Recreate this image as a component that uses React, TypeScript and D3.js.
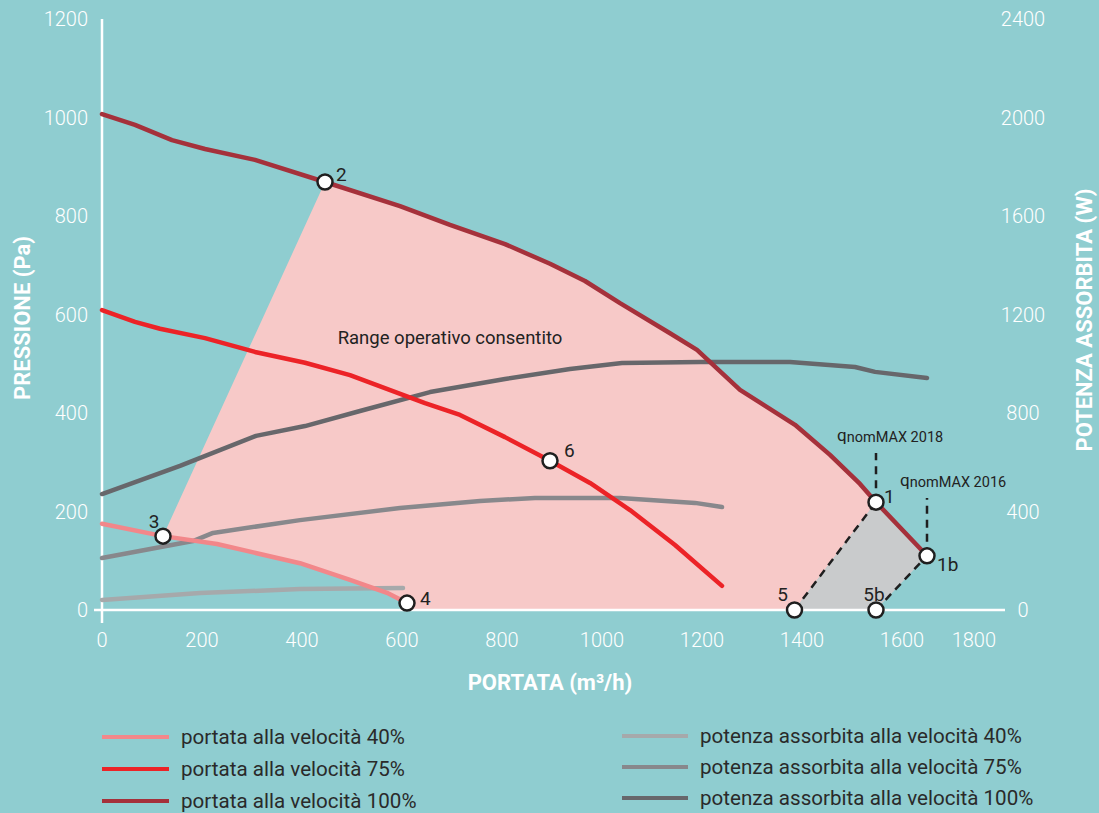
import React from "react";
import * as d3 from "d3";

type Pt = [number, number];

// portata (m3/h) vs pressione (Pa)
const portata40: Pt[] = [
  [0, 175], [122, 150], [230, 134], [396, 95], [496, 61], [570, 35], [610, 14],
];
const portata75: Pt[] = [
  [0, 609], [66, 585], [116, 571], [206, 552], [306, 524], [406, 502], [496, 477],
  [646, 420], [716, 396], [806, 351], [896, 303], [976, 258], [1056, 203],
  [1146, 132], [1240, 49],
];
const portata100: Pt[] = [
  [0, 1007], [66, 985], [140, 954], [206, 936], [306, 914], [446, 869], [596, 820],
  [696, 782], [806, 743], [896, 703], [966, 668], [1036, 623], [1136, 562],
  [1190, 528], [1276, 447], [1386, 376], [1456, 315], [1516, 256], [1548, 219],
  [1650, 110],
];

// portata (m3/h) vs potenza assorbita (W)
const potenza40: Pt[] = [[0, 41], [196, 69], [396, 85], [602, 89]];
const potenza75: Pt[] = [
  [0, 211], [182, 280], [222, 313], [396, 365], [596, 414], [756, 443],
  [866, 455], [1036, 455], [1186, 435], [1240, 418],
];
const potenza100: Pt[] = [
  [0, 471], [156, 585], [308, 707], [406, 747], [516, 808], [656, 885],
  [806, 938], [936, 979], [1040, 1003], [1196, 1007], [1376, 1007],
  [1506, 987], [1546, 967], [1650, 942],
];

// punti di lavoro
const punti = [
  { id: "1", q: 1548, p: 219 },
  { id: "1b", q: 1650, p: 110 },
  { id: "2", q: 446, p: 869 },
  { id: "3", q: 122, p: 150 },
  { id: "4", q: 610, p: 14 },
  { id: "5", q: 1385, p: 0 },
  { id: "5b", q: 1548, p: 0 },
  { id: "6", q: 896, p: 303 },
];

const xTicks = [0, 200, 400, 600, 800, 1000, 1200, 1400, 1600, 1800];
const yTicks = [0, 200, 400, 600, 800, 1000, 1200];
const y2Ticks = [0, 400, 800, 1200, 1600, 2000, 2400];

const legendaPortata = ["portata alla velocità 40%", "portata alla velocità 75%", "portata alla velocità 100%"];
const legendaPotenza = ["potenza assorbita alla velocità 40%", "potenza assorbita alla velocità 75%", "potenza assorbita alla velocità 100%"];

const coloriPortata = ["#f2878a", "#ec2327", "#a5313b"];
const coloriPotenza = ["#a6a9ab", "#88888c", "#67676b"];

const labelOffset: Record<string, [number, number, string]> = {
  "1": [8, -6, "start"],
  "1b": [10, 9, "start"],
  "2": [11, -8, "start"],
  "3": [-9, -15, "middle"],
  "4": [13, -5, "start"],
  "5": [-12, -16, "middle"],
  "5b": [-2, -16, "middle"],
  "6": [14, -10, "start"],
};

export default function App() {
  const x = d3.scaleLinear().domain([0, 1800]).range([102, 1002]);
  const y = d3.scaleLinear().domain([0, 1200]).range([610, 19]);
  const y2 = d3.scaleLinear().domain([0, 2400]).range([610, 19]);

  const lineP = d3.line<Pt>().x((d) => x(d[0])).y((d) => y(d[1]));
  const lineW = d3.line<Pt>().x((d) => x(d[0])).y((d) => y2(d[1]));

  const pt = (id: string) => punti.find((d) => d.id === id)!;
  const p1 = pt("1"), p1b = pt("1b"), p2 = pt("2"), p3 = pt("3"), p4 = pt("4"), p5 = pt("5"), p5b = pt("5b");

  // area operativa consentita (rosa)
  const areaRosa: Pt[] = [
    [p3.q, p3.p],
    [p2.q, p2.p],
    ...portata100.filter((d) => d[0] > p2.q && d[0] < p1.q),
    [p1.q, p1.p],
    [p5.q, p5.p],
    [p4.q, 0],
    [p4.q, p4.p],
    ...portata40.filter((d) => d[0] > p3.q && d[0] < p4.q).reverse(),
  ];
  // area grigia
  const areaGrigia: Pt[] = [
    [p1.q, p1.p],
    ...portata100.filter((d) => d[0] > p1.q && d[0] < p1b.q),
    [p1b.q, p1b.p],
    [p5b.q, p5b.p],
    [p5.q, p5.p],
  ];
  const poly = (pts: Pt[]) => (lineP(pts) || "") + "Z";

  const tickFont = { fontFamily: "Roboto, sans-serif", fontSize: 20, fontWeight: 300, fill: "#ffffff" };
  const dash = { stroke: "#1f1f1f", strokeWidth: 2.5, strokeDasharray: "8 6", fill: "none" };

  return (
    <svg width={1099} height={813} style={{ position: "absolute", left: 0, top: 0 }} fontFamily="Roboto, sans-serif">
      <rect x={0} y={0} width={1099} height={813} fill="#8fcdd0" />

      <path d={poly(areaRosa)} fill="#f7c9c8" />
      <path d={poly(areaGrigia)} fill="#c9cbcc" />

      {/* assi */}
      <line x1={102} x2={102} y1={y(1200)} y2={623} stroke="#fff" strokeWidth={2.5} />
      <line x1={94} x2={1005} y1={y(0)} y2={y(0)} stroke="#fff" strokeWidth={2.5} />

      {yTicks.map((t) => (
        <text key={"y" + t} x={88} y={y(t)} dy="0.36em" textAnchor="end" {...tickFont}>{t}</text>
      ))}
      {y2Ticks.map((t) => (
        <text key={"y2" + t} x={1023} y={y2(t)} dy="0.36em" textAnchor="middle" {...tickFont}>{t}</text>
      ))}
      {xTicks.map((t, i) => (
        <text key={"x" + t} x={i === xTicks.length - 1 ? x(t) - 6 : x(t)} y={647} textAnchor={i === xTicks.length - 1 ? "end" : "middle"} {...tickFont}>{t}</text>
      ))}

      <text x={550} y={690} textAnchor="middle" fill="#fff" fontSize={22} fontWeight={700}>PORTATA (m³/h)</text>
      <text transform="translate(30,318) rotate(-90)" textAnchor="middle" fill="#fff" fontSize={22} fontWeight={700}>PRESSIONE (Pa)</text>
      <text transform="translate(1092,320) rotate(-90)" textAnchor="middle" fill="#fff" fontSize={22} fontWeight={700}>POTENZA ASSORBITA (W)</text>

      {/* curve di potenza */}
      {[potenza40, potenza75, potenza100].map((s, i) => (
        <path key={"w" + i} d={lineW(s) || ""} fill="none" stroke={coloriPotenza[i]} strokeWidth={4.5} strokeLinecap="round" strokeLinejoin="round" />
      ))}
      {/* curve di portata */}
      {[portata40, portata75, portata100].map((s, i) => (
        <path key={"p" + i} d={lineP(s) || ""} fill="none" stroke={coloriPortata[i]} strokeWidth={4.5} strokeLinecap="round" strokeLinejoin="round" />
      ))}

      {/* tratteggi */}
      <line x1={x(p5.q)} y1={y(p5.p)} x2={x(p1.q)} y2={y(p1.p)} {...dash} />
      <line x1={x(p5b.q)} y1={y(p5b.p)} x2={x(p1b.q)} y2={y(p1b.p)} {...dash} />
      <line x1={x(p1.q)} y1={y(p1.p)} x2={x(p1.q)} y2={453} {...dash} />
      <line x1={x(p1b.q)} y1={y(p1b.p)} x2={x(p1b.q)} y2={498} {...dash} />

      <text x={837} y={441} fill="#222" fontSize={17}>
        q<tspan fontSize={14.5} dy={1}>nomMAX 2018</tspan>
      </text>
      <text x={900} y={486} fill="#222" fontSize={17}>
        q<tspan fontSize={14.5} dy={1}>nomMAX 2016</tspan>
      </text>

      <text x={450} y={344} textAnchor="middle" fill="#222" fontSize={18.5}>Range operativo consentito</text>

      {punti.map((d) => {
        const [dx, dy, anchor] = labelOffset[d.id];
        return (
          <g key={"pt" + d.id}>
            <circle cx={x(d.q)} cy={y(d.p)} r={7.5} fill="#fff" stroke="#1f1f1f" strokeWidth={2.5} />
            <text x={x(d.q) + dx} y={y(d.p) + dy} dy="0.35em" textAnchor={anchor} fill="#222" fontSize={19}>{d.id}</text>
          </g>
        );
      })}

      {/* legenda */}
      {legendaPortata.map((l, i) => (
        <g key={"lp" + i}>
          <line x1={102} x2={169} y1={737 + i * 32} y2={737 + i * 32} stroke={coloriPortata[i]} strokeWidth={4} />
          <text x={181} y={737 + i * 32} dy="0.35em" fill="#2a2a2a" fontSize={20.6}>{l}</text>
        </g>
      ))}
      {legendaPotenza.map((l, i) => (
        <g key={"lw" + i}>
          <line x1={622} x2={688} y1={736 + i * 31} y2={736 + i * 31} stroke={coloriPotenza[i]} strokeWidth={4} />
          <text x={700} y={736 + i * 31} dy="0.35em" fill="#2a2a2a" fontSize={20.6}>{l}</text>
        </g>
      ))}
    </svg>
  );
}
